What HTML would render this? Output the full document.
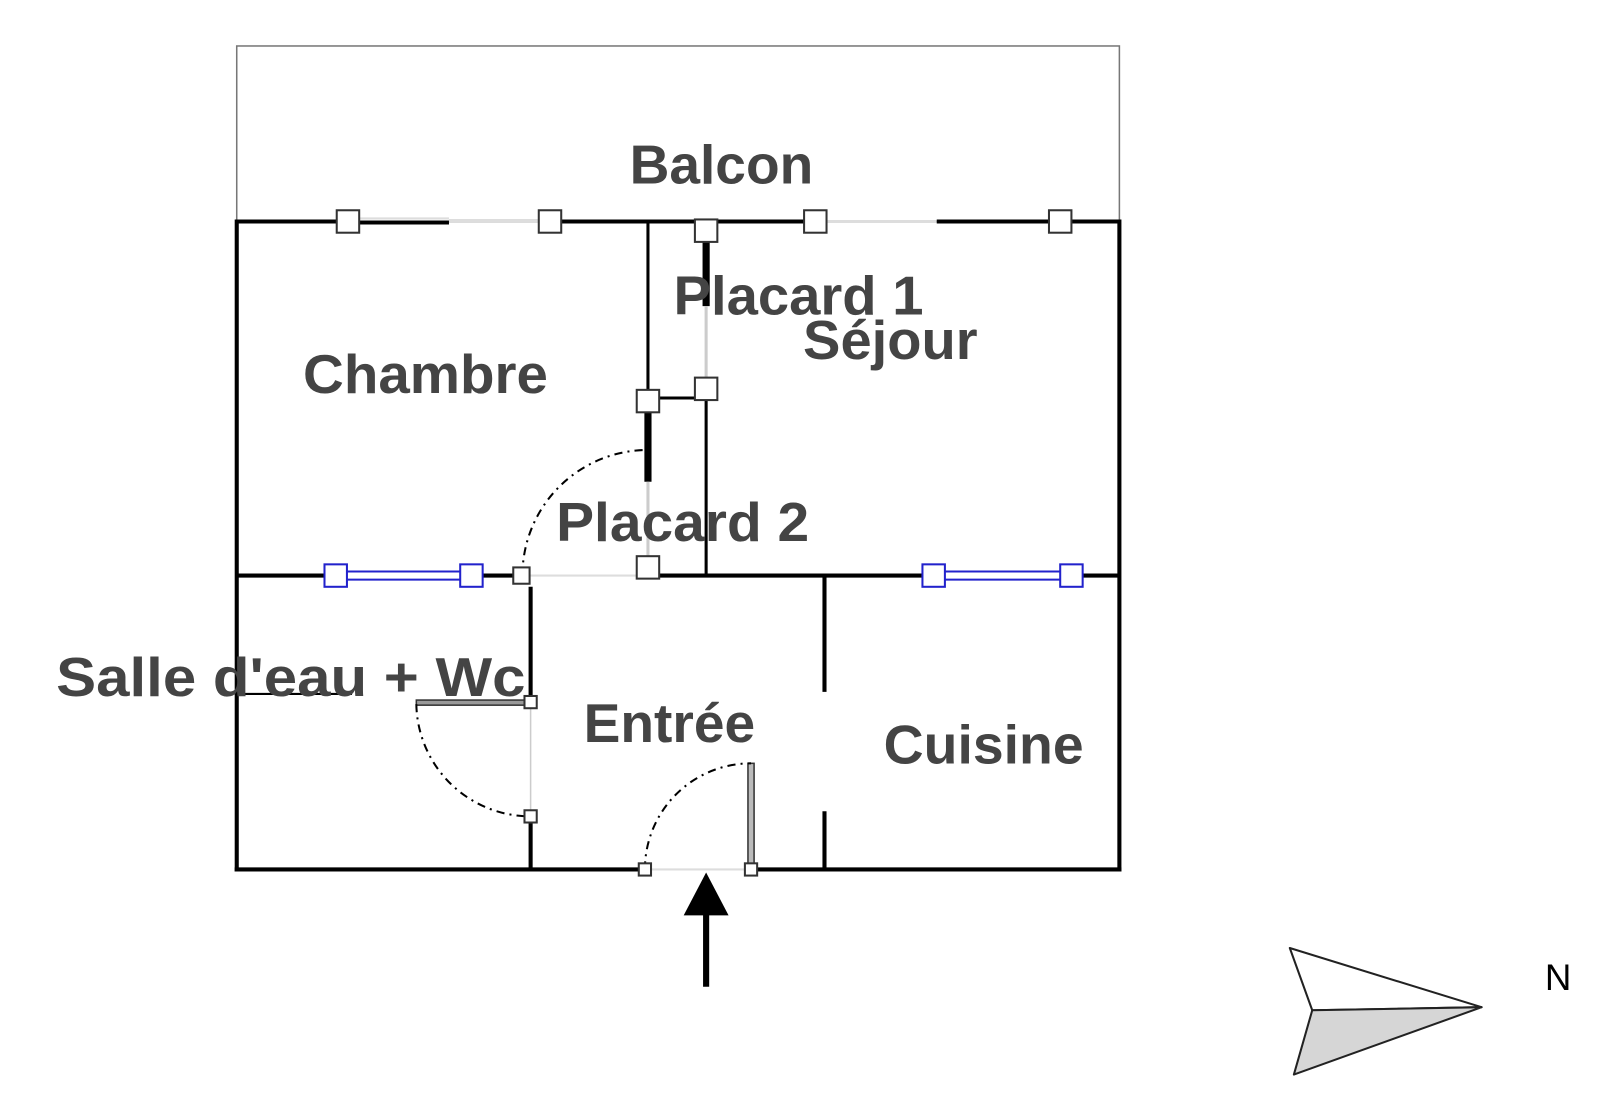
<!DOCTYPE html>
<html><head><meta charset="utf-8"><style>
html,body{margin:0;padding:0;background:#fff;}
svg{display:block;}
text{font-family:"Liberation Sans",sans-serif;font-weight:bold;fill:#444;}
</style></head><body>
<svg width="1600" height="1094" viewBox="0 0 1568 1072" xmlns="http://www.w3.org/2000/svg">
<rect x="0" y="0" width="1568" height="1072" fill="#fff"/>
<!-- balcony -->
<rect x="232" y="45" width="865" height="172" fill="none" stroke="#777" stroke-width="1.5"/>
<g stroke="#000" stroke-linecap="butt" fill="none">
<!-- top wall -->
<line x1="232" y1="217" x2="341" y2="217" stroke-width="4"/>
<line x1="341" y1="218" x2="440" y2="218" stroke-width="4"/>
<line x1="440" y1="216" x2="539" y2="216" stroke="#ddd" stroke-width="3"/>
<line x1="341" y1="214" x2="440" y2="214" stroke="#ddd" stroke-width="2"/>
<line x1="539" y1="217" x2="799" y2="217" stroke-width="4"/>
<line x1="799" y1="217" x2="918" y2="217" stroke="#ddd" stroke-width="3"/>
<line x1="918" y1="217" x2="1039" y2="217" stroke-width="4"/>
<line x1="1039" y1="217" x2="1097" y2="217" stroke-width="4"/>
<!-- outer walls -->
<line x1="232" y1="215" x2="232" y2="854" stroke-width="4"/>
<line x1="1097" y1="215" x2="1097" y2="854" stroke-width="4"/>
<line x1="230" y1="852" x2="632" y2="852" stroke-width="4"/>
<line x1="736" y1="852" x2="1099" y2="852" stroke-width="4"/>
<line x1="632" y1="852" x2="736" y2="852" stroke="#ddd" stroke-width="2"/>
<!-- middle horizontal -->
<line x1="232" y1="564" x2="329" y2="564" stroke-width="4"/>
<line x1="462" y1="564" x2="512" y2="564" stroke-width="4"/>
<line x1="512" y1="564" x2="636" y2="564" stroke="#ddd" stroke-width="2"/>
<line x1="636" y1="564" x2="915" y2="564" stroke-width="4"/>
<line x1="1050" y1="564" x2="1097" y2="564" stroke-width="4"/>
<!-- vertical wall chambre/placard -->
<line x1="635" y1="217" x2="635" y2="393" stroke-width="3"/>
<line x1="635" y1="393" x2="635" y2="472" stroke-width="7"/>
<line x1="635" y1="472" x2="635" y2="555" stroke="#ccc" stroke-width="3"/>
<line x1="635" y1="390" x2="692" y2="390" stroke-width="3"/>
<!-- placard 1 wall -->
<line x1="692" y1="236" x2="692" y2="300" stroke-width="7"/>
<line x1="692" y1="300" x2="692" y2="381" stroke="#ccc" stroke-width="3"/>
<line x1="692" y1="381" x2="692" y2="564" stroke-width="3"/>
<!-- bathroom wall -->
<line x1="520" y1="575" x2="520" y2="688" stroke-width="4"/>
<line x1="520" y1="688" x2="520" y2="800" stroke="#ccc" stroke-width="1.5"/>
<line x1="520" y1="800" x2="520" y2="852" stroke-width="4"/>
<line x1="230" y1="680" x2="345" y2="680" stroke-width="2"/>
<!-- kitchen wall -->
<line x1="808" y1="564" x2="808" y2="678" stroke-width="4"/>
<line x1="808" y1="795" x2="808" y2="852" stroke-width="4"/>
<!-- doors -->
<rect x="408" y="686" width="112" height="5" fill="#999" stroke="#333" stroke-width="1.5"/>
<rect x="733" y="748" width="6" height="104" fill="#bbb" stroke="#333" stroke-width="1.5"/>
<path d="M512 564 A123 123 0 0 1 630 441" stroke-width="2" stroke-dasharray="8 5 2 5"/>
<path d="M408 690 A112 112 0 0 0 520 800" stroke-width="2" stroke-dasharray="8 5 2 5"/>
<path d="M632 852 A104 104 0 0 1 736 748" stroke-width="2" stroke-dasharray="8 5 2 5"/>
<!-- blue windows -->
<g stroke="#22c" stroke-width="2">
<line x1="329" y1="560" x2="462" y2="560"/><line x1="329" y1="568" x2="462" y2="568"/>
<line x1="915" y1="560" x2="1050" y2="560"/><line x1="915" y1="568" x2="1050" y2="568"/>
</g>
</g>
<g fill="#fff" stroke="#22c" stroke-width="2">
<rect x="318" y="553" width="22" height="22"/><rect x="451" y="553" width="22" height="22"/>
<rect x="904" y="553" width="22" height="22"/><rect x="1039" y="553" width="22" height="22"/>
</g>
<g fill="#fff" stroke="#333" stroke-width="2">
<rect x="330" y="206" width="22" height="22"/><rect x="528" y="206" width="22" height="22"/>
<rect x="788" y="206" width="22" height="22"/><rect x="1028" y="206" width="22" height="22"/>
<rect x="681" y="215" width="22" height="22"/>
<rect x="681" y="370" width="22" height="22"/>
<rect x="624" y="382" width="22" height="22"/>
<rect x="624" y="545" width="22" height="22"/>
<rect x="503" y="556" width="16" height="16"/>
<rect x="514" y="682" width="12" height="12"/>
<rect x="514" y="794" width="12" height="12"/>
<rect x="626" y="846" width="12" height="12"/>
<rect x="730" y="846" width="12" height="12"/>
</g>
<!-- entrance arrow -->
<line x1="692" y1="895" x2="692" y2="967" stroke="#000" stroke-width="6"/>
<polygon points="692,855 670,897 714,897" fill="#000"/>
<!-- compass -->
<polygon points="1264,929 1452,987 1286,990" fill="#fff" stroke="#222" stroke-width="2" stroke-linejoin="round"/>
<polygon points="1286,990 1452,987 1268,1053" fill="#d6d6d6" stroke="#222" stroke-width="2" stroke-linejoin="round"/>
<text x="1514" y="970" style="font-weight:normal;fill:#000" font-size="36">N</text>
<!-- labels -->
<text x="617" y="180" font-size="54" textLength="180" lengthAdjust="spacingAndGlyphs">Balcon</text>
<text x="297" y="385" font-size="54" textLength="240" lengthAdjust="spacingAndGlyphs">Chambre</text>
<text x="660" y="308" font-size="54" textLength="245" lengthAdjust="spacingAndGlyphs">Placard 1</text>
<text x="787" y="352" font-size="54" textLength="171" lengthAdjust="spacingAndGlyphs">Séjour</text>
<text x="545" y="530" font-size="54" textLength="248" lengthAdjust="spacingAndGlyphs">Placard 2</text>
<text x="55" y="682" font-size="54" textLength="460" lengthAdjust="spacingAndGlyphs">Salle d'eau + Wc</text>
<text x="572" y="727" font-size="54" textLength="168" lengthAdjust="spacingAndGlyphs">Entrée</text>
<text x="866" y="748" font-size="54" textLength="196" lengthAdjust="spacingAndGlyphs">Cuisine</text>
</svg>
</body></html>
